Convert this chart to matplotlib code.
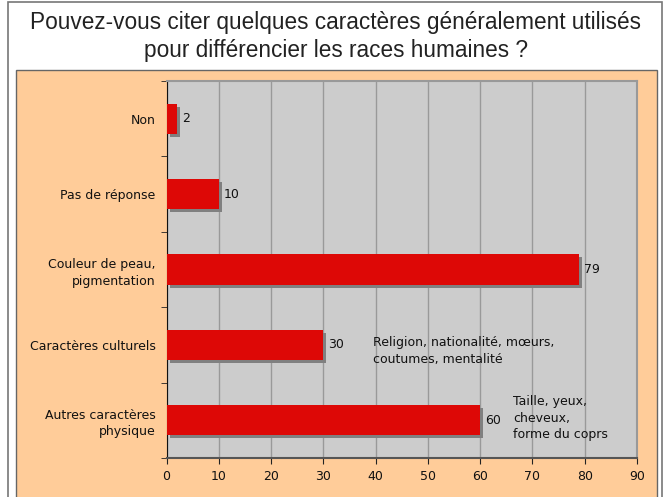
import matplotlib.pyplot as plt
import matplotlib.transforms as mtransforms
from matplotlib.patches import Rectangle

# Data
categories = ['Non', 'Pas de réponse', 'Couleur de peau,\npigmentation',
              'Caractères culturels', 'Autres caractères\nphysique']
values = [2, 10, 79, 30, 60]
notes = {3: 'Religion, nationalité, mœurs,\ncoutumes, mentalité',
         4: 'Taille, yeux,\ncheveux,\nforme du coprs'}
note_x = {3: 39.5, 4: 66.3}
note_dy = {3: 0.08, 4: -0.03}

W, H = 671, 497
fig = plt.figure(figsize=(W / 100, H / 100), dpi=100)
fig.patch.set_facecolor('white')

# outer frame and orange chart area
fig.patches.append(Rectangle((8 / W, -0.01), 654 / W, (H - 2) / H + 0.01,
                             transform=fig.transFigure, facecolor='white',
                             edgecolor='#777777', linewidth=1.2, zorder=-10))
fig.patches.append(Rectangle((16 / W, -0.01), 641 / W, (H - 70) / H + 0.01,
                             transform=fig.transFigure, facecolor='#FFCC99',
                             edgecolor='#666666', linewidth=1.0, zorder=-9))

fig.text(0.5, 1 - 22 / H, 'Pouvez-vous citer quelques caractères généralement utilisés',
         ha='center', va='center', fontsize=16.3, family='Liberation Sans', color='#222222')
fig.text(0.5, 1 - 50 / H, 'pour différencier les races humaines ?',
         ha='center', va='center', fontsize=16.3, family='Liberation Sans', color='#222222')

ax = fig.add_axes([166.5 / W, 39 / H, 470.5 / W, 377 / H])
ax.set_facecolor('#CCCCCC')

ypos = list(range(len(categories)))
shadow = mtransforms.offset_copy(ax.transData, fig=fig, x=3, y=-3, units='dots')
ax.barh(ypos, values, height=0.4, color='#808080', transform=shadow, zorder=2)
ax.barh(ypos, values, height=0.4, color='#DD0806', zorder=3)

for i, v in enumerate(values):
    ax.annotate(str(v), (v, i), xytext=(3.5, 0), textcoords='offset points',
                ha='left', va='center', fontsize=9, color='#111111')
for i, txt in notes.items():
    ax.text(note_x[i], i + note_dy[i], txt, ha='left', va='center',
            fontsize=9, color='#111111', linespacing=1.35)

ax.set_xlim(0, 90)
ax.set_ylim(len(categories) - 0.5, -0.5)
ax.set_xticks(range(0, 91, 10))
ax.grid(axis='x', color='#999999', linewidth=1.0, zorder=1)
ax.set_axisbelow(True)

ax.set_yticks(ypos)
ax.set_yticklabels(categories, fontsize=9, color='#111111', linespacing=1.35)
ax.tick_params(axis='y', length=0, pad=8)
ax.set_yticks([i + 0.5 for i in range(-1, len(categories))], minor=True)
ax.tick_params(axis='y', which='minor', length=4, direction='out', color='#222222')
ax.tick_params(axis='x', length=4, direction='out', color='#222222',
               labelsize=9, labelcolor='#111111', pad=5)

ax.spines['left'].set_color('#111111')
ax.spines['bottom'].set_color('#555555')
ax.spines['bottom'].set_linewidth(1.5)
ax.spines['top'].set_color('#999999')
ax.spines['right'].set_color('#999999')
ax.spines['top'].set_linewidth(1.5)
ax.spines['right'].set_linewidth(1.5)

fig.savefig('out.png', dpi=100)
